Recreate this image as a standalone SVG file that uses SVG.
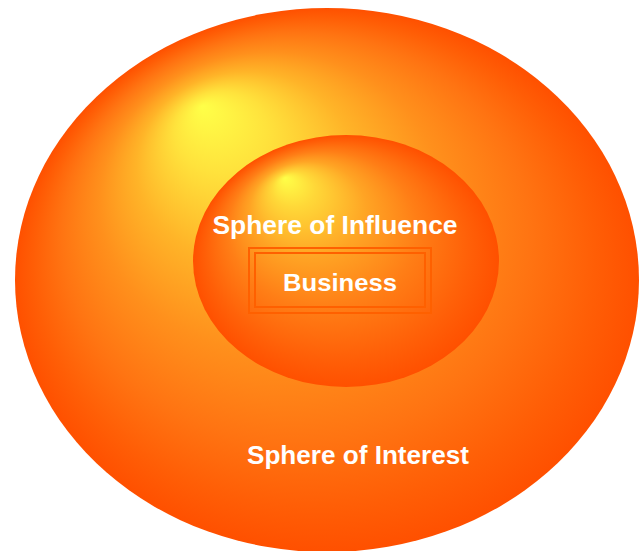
<svg xmlns="http://www.w3.org/2000/svg" width="640" height="551" viewBox="0 0 640 551">
<defs>
<radialGradient id="gOuter" cx="0.5" cy="0.5" r="0.5" fx="0.30" fy="0.18">
<stop offset="0" stop-color="#ffff48"/>
<stop offset="0.15" stop-color="#ffe23c"/>
<stop offset="0.35" stop-color="#ffb428"/>
<stop offset="0.55" stop-color="#ff901c"/>
<stop offset="0.75" stop-color="#ff7412"/>
<stop offset="0.9" stop-color="#ff5e06"/>
<stop offset="1" stop-color="#ff5000"/>
</radialGradient>
<radialGradient id="gInner" cx="0.5" cy="0.5" r="0.5" fx="0.30" fy="0.17">
<stop offset="0" stop-color="#ffff48"/>
<stop offset="0.14" stop-color="#ffd838"/>
<stop offset="0.38" stop-color="#ffa424"/>
<stop offset="0.62" stop-color="#ff7e16"/>
<stop offset="0.86" stop-color="#ff6008"/>
<stop offset="1" stop-color="#ff5000"/>
</radialGradient>
<style>
.lbl{font-family:"Liberation Sans",Arial,sans-serif;font-weight:bold;fill:#ffffff;text-anchor:middle}
.box{fill:none;stroke:#ff6000;stroke-width:2}
</style>
</defs>
<rect width="640" height="551" fill="#ffffff"/>
<g id="sphere-of-interest">
<ellipse cx="327" cy="280" rx="312" ry="272" fill="url(#gOuter)"/>
<text class="lbl" x="358" y="464" font-size="25" textLength="222" lengthAdjust="spacingAndGlyphs">Sphere of Interest</text>
</g>
<g id="sphere-of-influence">
<ellipse cx="346" cy="261" rx="153" ry="126" fill="url(#gInner)"/>
<text class="lbl" x="335" y="234" font-size="25" textLength="245" lengthAdjust="spacingAndGlyphs">Sphere of Influence</text>
</g>
<g id="business">
<rect class="box" x="249" y="248" width="182" height="65"/>
<rect class="box" x="255" y="253" width="170" height="54" stroke-width="1.5"/>
<text class="lbl" x="340" y="291" font-size="24" textLength="114" lengthAdjust="spacingAndGlyphs">Business</text>
</g>
<g id="connectors"/>
</svg>
